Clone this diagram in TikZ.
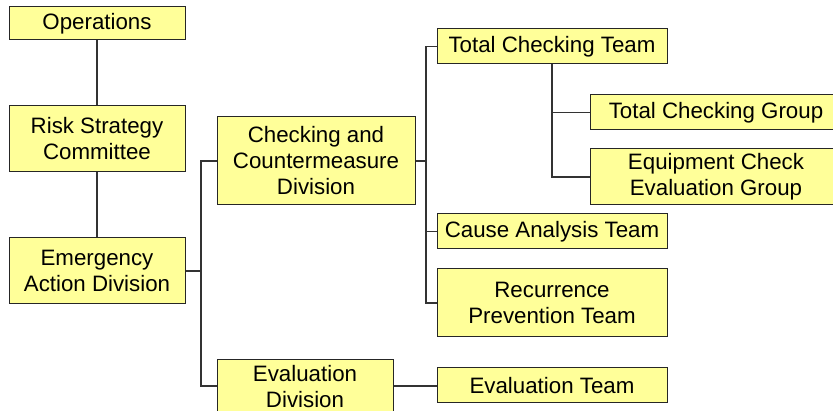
\documentclass[tikz,border=0pt]{standalone}
\usepackage{fontspec}
\setmainfont{Liberation Sans}
\begin{document}
\begin{tikzpicture}[x=1pt,y=-1pt,
  orgbox/.style={draw=black!85,fill=boxfill,line width=1pt,inner sep=0pt,align=center,
    font=\fontsize{22.3}{26}\selectfont},
  link/.style={draw=black!80,line width=1.2pt}]
\definecolor{boxfill}{HTML}{FFFF99}
\useasboundingbox (0,0) rectangle (833,411);
\clip (0,0) rectangle (833,411);
\node[orgbox,minimum width=176pt,minimum height=33pt] (ops) at (97,23.5) {Operations};
\node[orgbox,minimum width=176pt,minimum height=66pt] (rsc) at (97,139) {Risk Strategy\\Committee};
\node[orgbox,minimum width=176pt,minimum height=66pt] (ead) at (97,271) {Emergency\\Action Division};
\node[orgbox,minimum width=198pt,minimum height=88pt] (ccd) at (316,161) {Checking and\\Countermeasure\\Division};
\node[orgbox,minimum width=176pt,minimum height=54pt,anchor=north] (ed) at (305,359) {Evaluation\\Division};
\node[orgbox,minimum width=230pt,minimum height=35pt] (tct) at (552,46.5) {Total Checking Team};
\node[orgbox,minimum width=230pt,minimum height=35pt] (cat) at (552,231.5) {Cause Analysis Team};
\node[orgbox,minimum width=230pt,minimum height=68pt] (rpt) at (552,303) {Recurrence\\Prevention Team};
\node[orgbox,minimum width=230pt,minimum height=35pt] (et) at (552,385.5) {Evaluation Team};
\node[orgbox,minimum width=252pt,minimum height=35pt] (tcg) at (716,112.5) {Total Checking Group};
\node[orgbox,minimum width=252pt,minimum height=56pt] (eceg) at (716,177) {Equipment Check\\Evaluation Group};
\coordinate (busA) at (201,0);
\coordinate (busB) at (426,0);
\draw[link] (ops.south) -- (rsc.north);
\draw[link] (rsc.south) -- (ead.north);
\draw[link] (ead.east) -- (ead.east -| busA) |- (ccd.west);
\draw[link] (ead.east) -- (ead.east -| busA) |- ([yshift=-27pt]ed.north west);
\draw[link] (ccd.east) -- (ccd.east -| busB) |- (tct.west);
\draw[link] (ccd.east) -- (ccd.east -| busB) |- (cat.west);
\draw[link] (ccd.east) -- (ccd.east -| busB) |- (rpt.west);
\draw[link] ([yshift=-27pt]ed.north east) -- ([yshift=-27pt]ed.north east -| et.west);
\draw[link] (tct.south) |- (tcg.west);
\draw[link] (tct.south) |- (eceg.west);
\end{tikzpicture}
\end{document}
